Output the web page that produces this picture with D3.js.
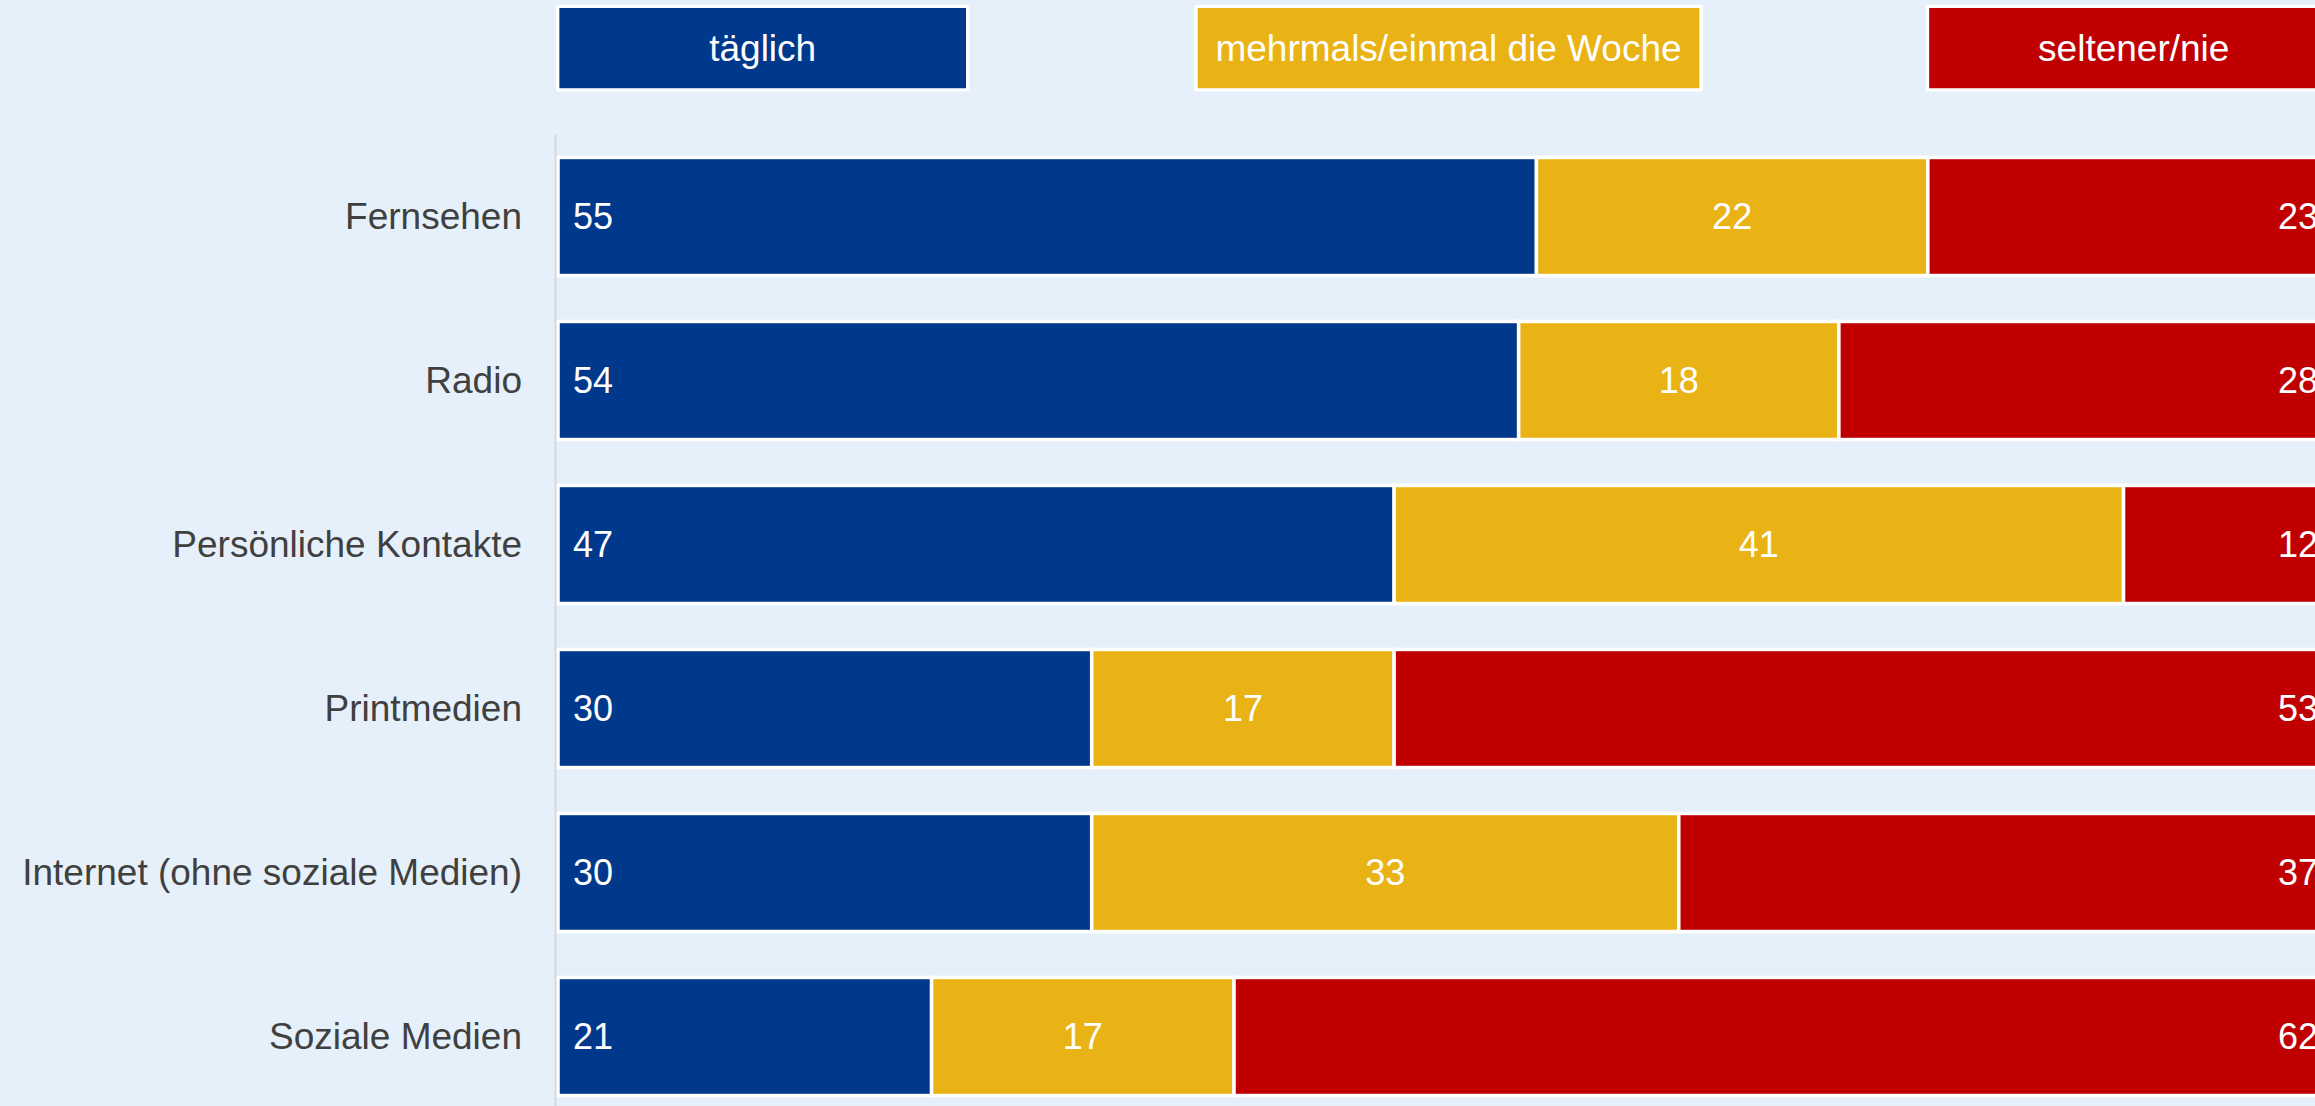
<!DOCTYPE html>
<html>
<head>
<meta charset="utf-8">
<script src="https://cdn.jsdelivr.net/npm/d3@7"></script>
<style>
  html, body { margin: 0; padding: 0; overflow: hidden; background: #e6f0fa; }
  svg { display: block; }
</style>
</head>
<body>
<svg id="chart" width="2315" height="1106"></svg>
<script>
// ---- data ----
const categories = ["Fernsehen", "Radio", "Persönliche Kontakte", "Printmedien", "Internet (ohne soziale Medien)", "Soziale Medien"];
const seriesNames = ["täglich", "mehrmals/einmal die Woche", "seltener/nie"];
const taeglich = [55, 54, 47, 30, 30, 21];
const woechentlich = [22, 18, 41, 17, 33, 17];
const seltener = [23, 28, 12, 53, 37, 62];
const seriesColors = ["#00388c", "#eab315", "#c00000"];

// ---- layout ----
const W = 2315, H = 1106;
const svg = d3.select("#chart");
svg.append("rect").attr("width", W).attr("height", H).attr("fill", "#e6f0fa");

const x = d3.scaleLinear().domain([0, 100]).range([558, 2337]);
const y = d3.scaleBand().domain(categories).range([135, 1118]).paddingInner(0.28).paddingOuter(0.137);

const rows = categories.map((c, i) => ({ cat: c, vals: [taeglich[i], woechentlich[i], seltener[i]] }));
const segs = [];
rows.forEach(r => {
  let acc = 0;
  r.vals.forEach((v, k) => {
    segs.push({ cat: r.cat, k, v, x0: acc, x1: acc + v });
    acc += v;
  });
});

// bars
svg.append("g").selectAll("rect").data(segs).join("rect")
  .attr("x", d => x(d.x0))
  .attr("y", d => y(d.cat))
  .attr("width", d => x(d.x1) - x(d.x0))
  .attr("height", y.bandwidth())
  .attr("fill", d => seriesColors[d.k])
  .attr("stroke", "#ffffff")
  .attr("stroke-width", 3.5);

// axis line (drawn over bar outlines)
svg.append("line")
  .attr("x1", 555.5).attr("x2", 555.5)
  .attr("y1", y.range()[0]).attr("y2", y.range()[1])
  .attr("stroke", "#d3d6da").attr("stroke-width", 1.8);

// value labels
svg.append("g").selectAll("text").data(segs).join("text")
  .attr("x", d => d.k === 0 ? x(d.x0) + 15 : d.k === 1 ? (x(d.x0) + x(d.x1)) / 2 : x(d.x1) - 19)
  .attr("y", d => y(d.cat) + y.bandwidth() / 2)
  .attr("dy", "0.35em")
  .attr("text-anchor", d => d.k === 0 ? "start" : d.k === 1 ? "middle" : "end")
  .attr("font-family", "Liberation Sans, Arial, sans-serif")
  .attr("font-size", 36)
  .attr("fill", "#ffffff")
  .text(d => d.v);

// category labels
const yAxis = d3.axisLeft(y).tickSize(0).tickPadding(34);
const gA = svg.append("g").attr("transform", "translate(556,0)").call(yAxis);
gA.select(".domain").remove();
gA.selectAll("text")
  .attr("font-family", "Liberation Sans, Arial, sans-serif")
  .attr("font-size", 37)
  .attr("fill", "#404040")
  .attr("dy", "0.33em");

// legend
const legendBoxes = [
  { x0: 557.7, x1: 967.7 },
  { x0: 1196, x1: 1701 },
  { x0: 1927.5, x1: 2340 }
];
const lg = svg.append("g");
seriesNames.forEach((name, k) => {
  const b = legendBoxes[k];
  lg.append("rect")
    .attr("x", b.x0).attr("y", 6.3)
    .attr("width", b.x1 - b.x0).attr("height", 83.5)
    .attr("fill", seriesColors[k])
    .attr("stroke", "#ffffff").attr("stroke-width", 3.3)
    .attr("stroke-linejoin", "round");
  lg.append("text")
    .attr("x", (b.x0 + b.x1) / 2).attr("y", 48)
    .attr("dy", "0.35em")
    .attr("text-anchor", "middle")
    .attr("font-family", "Liberation Sans, Arial, sans-serif")
    .attr("font-size", 37)
    .attr("fill", "#ffffff")
    .text(name);
});
</script>
</body>
</html>
